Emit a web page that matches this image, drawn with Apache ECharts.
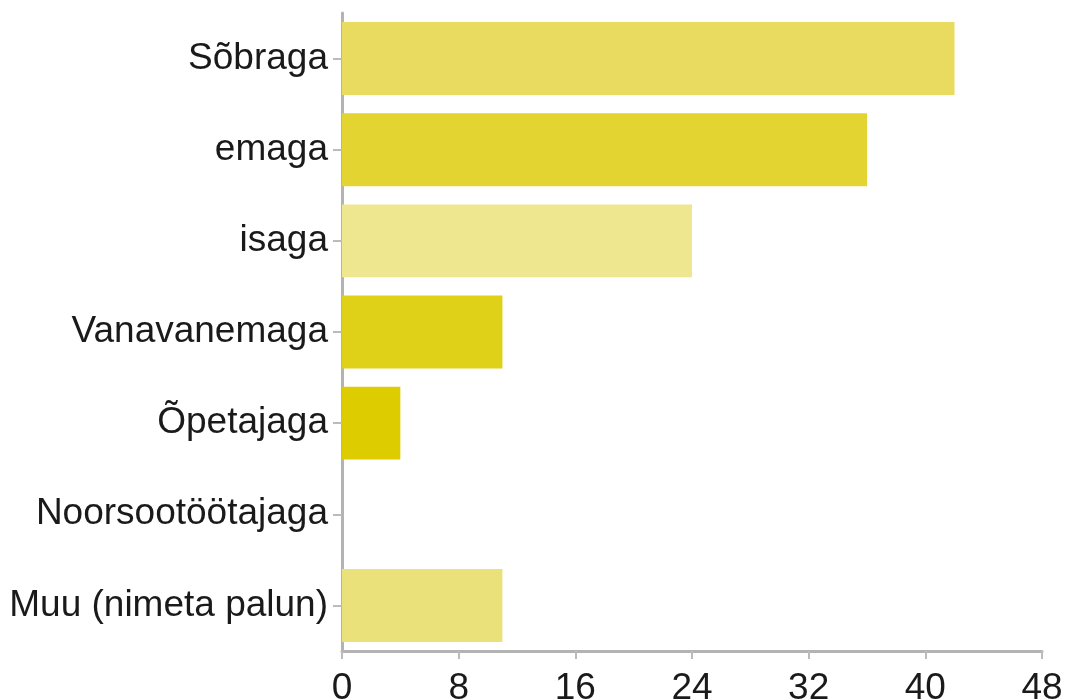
<!DOCTYPE html>
<html>
<head>
<meta charset="utf-8">
<script src="https://cdn.jsdelivr.net/npm/echarts@6/dist/echarts.min.js"></script>
<style>
html,body{margin:0;padding:0;background:#fff;}
#chart{width:1067px;height:699px;}
</style>
</head>
<body>
<div id="chart"></div>
<script>
const categories = ["Sõbraga", "emaga", "isaga", "Vanavanemaga", "Õpetajaga", "Noorsootöötajaga", "Muu (nimeta palun)"];
const values = [42, 36, 24, 11, 4, 0, 11];
const barColors = ["#e8db5f", "#e3d431", "#efe690", "#dfd018", "#dccc00", "#e6da50", "#ebe17a"];
const xTicks = { min: 0, max: 48, interval: 8 };

const chart = echarts.init(document.getElementById('chart'), null, { renderer: 'canvas' });
const font = '"Liberation Sans", Arial, Helvetica, sans-serif';
chart.setOption({
  animation: false,
  grid: { left: 342, right: 25, top: 13, bottom: 48, containLabel: false, outerBoundsMode: 'none' },
  xAxis: {
    type: 'value',
    min: xTicks.min, max: xTicks.max, interval: xTicks.interval,
    splitLine: { show: false },
    axisLine: { show: true, lineStyle: { color: '#b3b3b3', width: 3 } },
    axisTick: { show: true, length: 8, lineStyle: { color: '#bbbbbb', width: 2 } },
    axisLabel: { color: '#1a1a1a', fontFamily: font, fontSize: 37, margin: 19 }
  },
  yAxis: {
    type: 'category',
    inverse: true,
    data: categories,
    axisLine: { show: true, lineStyle: { color: '#b3b3b3', width: 3 } },
    axisTick: { show: true, alignWithLabel: true, length: 9, lineStyle: { color: '#bbbbbb', width: 2 } },
    axisLabel: { color: '#1a1a1a', fontFamily: font, fontSize: 37, margin: 14, padding: [8, 0, 0, 0] }
  },
  series: [{
    type: 'bar',
    barCategoryGap: '20%',
    data: values.map((v, i) => ({ value: v, itemStyle: { color: barColors[i] } }))
  }]
});
</script>
</body>
</html>
